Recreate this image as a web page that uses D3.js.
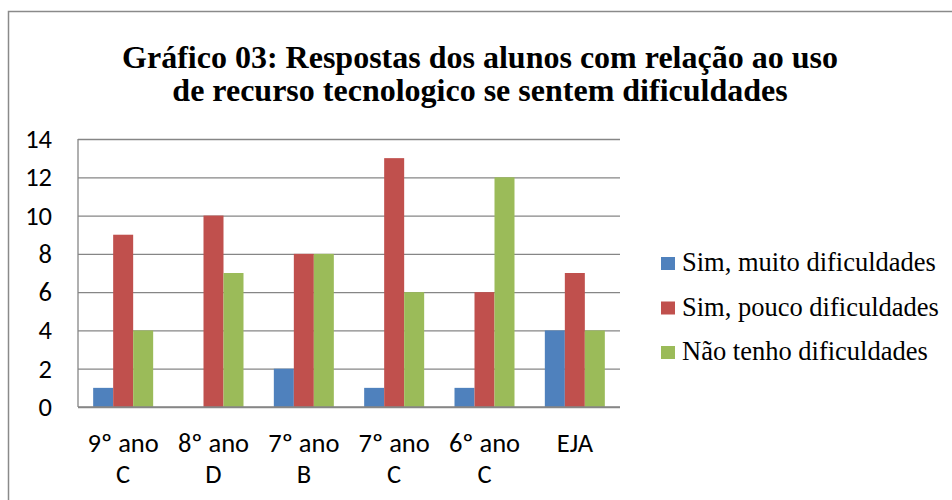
<!DOCTYPE html>
<html>
<head>
<meta charset="utf-8">
<script src="https://cdn.jsdelivr.net/npm/d3@7"></script>
<style>
  body { margin: 0; background: #fff; }
  svg { display: block; }
</style>
</head>
<body>
<div id="chart"></div>
<script>
const categories = ['9º ano C', '8º ano D', '7º ano B', '7º ano C', '6º ano C', 'EJA'];
const seriesNames = ['Sim, muito dificuldades', 'Sim, pouco dificuldades', 'Não tenho dificuldades'];
const simMuito = [1, 0, 2, 1, 1, 4];
const simPouco = [9, 10, 8, 13, 6, 7];
const naoTenho = [4, 7, 8, 6, 12, 4];
const yTicks = [0, 2, 4, 6, 8, 10, 12, 14];
const titleLines = [
    'Gráfico 03: Respostas dos alunos com relação ao uso',
    'de recurso tecnologico se sentem dificuldades',
];

const colors = ['#4F81BD', '#C0504D', '#9BBB59'];
const gridColor = '#868686';

const width = 952;
const height = 500;
const plot = { left: 78, top: 139, right: 620, bottom: 407 };

const serifFont = '"Liberation Serif", "Times New Roman", serif';
const tickFont = 'Carlito, Calibri, "Open Sans", sans-serif';

const svg = d3.select('#chart').append('svg')
    .attr('width', width)
    .attr('height', height);

// outer frame (runs off the right and bottom edges)
svg.append('rect')
    .attr('x', 8.5)
    .attr('y', 11.5)
    .attr('width', 1000)
    .attr('height', 1000)
    .attr('fill', 'none')
    .attr('stroke', '#8a8a8a')
    .attr('stroke-width', 1.5);

// title
svg.append('g')
    .selectAll('text')
    .data(titleLines)
    .enter()
    .append('text')
    .attr('x', 480)
    .attr('y', (d, i) => 68 + i * 33)
    .attr('text-anchor', 'middle')
    .attr('font-family', serifFont)
    .attr('font-weight', 'bold')
    .attr('font-size', '32px')
    .attr('fill', '#000')
    .text((d) => d);

const x0 = d3.scaleBand()
    .domain(categories)
    .range([plot.left, plot.right]);

const x1 = d3.scaleBand()
    .domain(seriesNames)
    .range([0, 60]);

const y = d3.scaleLinear()
    .domain([0, 14])
    .range([plot.bottom, plot.top]);

// y axis with gridlines
svg.append('g')
    .attr('transform', `translate(${plot.left},0)`)
    .call(d3.axisLeft(y).tickValues(yTicks).tickSize(-(plot.right - plot.left)).tickPadding(26).tickFormat(d3.format('d')))
    .call((g) => g.select('.domain').remove())
    .call((g) => g.selectAll('.tick line').attr('stroke', gridColor).attr('stroke-width', 1.3))
    .call((g) => g.selectAll('.tick text')
        .attr('fill', '#000')
        .attr('font-family', tickFont)
        .attr('font-size', '26.5px'));

// vertical axis line
svg.append('line')
    .attr('x1', plot.left)
    .attr('x2', plot.left)
    .attr('y1', plot.top)
    .attr('y2', plot.bottom)
    .attr('stroke', gridColor)
    .attr('stroke-width', 1.3);

// x axis labels, split in two lines like the original
svg.append('g')
    .attr('transform', `translate(0,${plot.bottom})`)
    .call(d3.axisBottom(x0).tickSize(0))
    .call((g) => g.select('.domain').remove())
    .call((g) => g.selectAll('.tick text')
        .attr('fill', '#000')
        .attr('font-family', tickFont)
        .attr('font-size', '26.5px')
        .attr('y', 0)
        .attr('dy', null)
        .each(function (d) {
            const m = d.match(/^(.*ano) (.*)$/);
            const lines = m ? [m[1], m[2]] : [d];
            const t = d3.select(this).text(null);
            lines.forEach((line, i) => {
                t.append('tspan')
                    .attr('x', 0)
                    .attr('y', 45 + i * 31)
                    .text(line);
            });
        }));

// bars
const rows = categories.map((c, i) => ({
    cat: c,
    values: [simMuito[i], simPouco[i], naoTenho[i]],
}));

const groups = svg.append('g')
    .selectAll('g')
    .data(rows)
    .enter()
    .append('g')
    .attr('transform', (d) => `translate(${x0(d.cat) + x0.bandwidth() / 2 - 30},0)`);

groups.selectAll('rect')
    .data((d) => d.values.map((v, j) => ({ name: seriesNames[j], value: v, color: colors[j] })))
    .enter()
    .append('rect')
    .attr('x', (d) => x1(d.name))
    .attr('width', x1.bandwidth())
    .attr('y', (d) => y(d.value))
    .attr('height', (d) => y(0) - y(d.value))
    .attr('fill', (d) => d.color);

// x axis line on top of bars
svg.append('line')
    .attr('x1', plot.left)
    .attr('x2', plot.right)
    .attr('y1', plot.bottom)
    .attr('y2', plot.bottom)
    .attr('stroke', gridColor)
    .attr('stroke-width', 1.3);

// legend
const legend = svg.append('g')
    .selectAll('g')
    .data(seriesNames)
    .enter()
    .append('g')
    .attr('transform', (d, i) => `translate(661,${257 + i * 44.5})`);

legend.append('rect')
    .attr('width', 14)
    .attr('height', 13)
    .attr('fill', (d, i) => colors[i]);

legend.append('text')
    .attr('x', 21)
    .attr('y', 14)
    .attr('font-family', serifFont)
    .attr('font-size', '26.5px')
    .attr('fill', '#000')
    .text((d) => d);
</script>
</body>
</html>
